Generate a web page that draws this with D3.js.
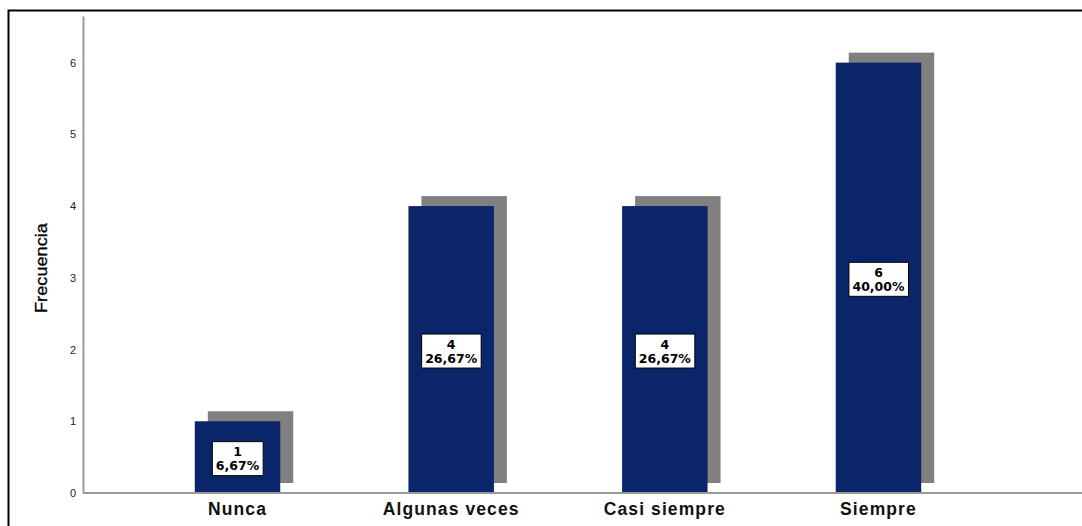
<!DOCTYPE html>
<html>
<head>
<meta charset="utf-8">
<script src="https://cdn.jsdelivr.net/npm/d3@7/dist/d3.min.js"></script>
<style>
  html, body { margin: 0; padding: 0; background: #fff; }
  svg { display: block; }
</style>
</head>
<body>
<script>
// Frequency table
const categories = ["Nunca", "Algunas veces", "Casi siempre", "Siempre"];
const frequencies = [1, 4, 4, 6];
const percentLabels = ["6,67%", "26,67%", "26,67%", "40,00%"];
const yTicks = [0, 1, 2, 3, 4, 5, 6];
const yTitle = "Frecuencia";

const W = 1082, H = 526;
const svg = d3.select("body").append("svg").attr("width", W).attr("height", H);

// outer chart frame (right and bottom edges run off the page)
svg.append("rect")
  .attr("x", 8.5).attr("y", 10.5)
  .attr("width", W + 20).attr("height", H + 20)
  .attr("fill", "none").attr("stroke", "#000").attr("stroke-width", 2);

const x = d3.scaleBand()
  .domain(categories)
  .range([130.7, 985.3])
  .paddingInner(0.6)
  .paddingOuter(0.3);

const y = d3.scaleLinear().domain([0, 6.65]).range([493, 16]);

const data = categories.map((c, i) => ({ cat: c, v: frequencies[i], pct: percentLabels[i] }));

// drop shadows behind the bars
const shadowDx = 13, shadowDy = -10;
svg.append("g").selectAll("rect").data(data).join("rect")
  .attr("x", d => x(d.cat) + shadowDx)
  .attr("y", d => y(d.v) + shadowDy)
  .attr("width", x.bandwidth())
  .attr("height", d => y(0) - y(d.v))
  .attr("fill", "#808080");

// bars
svg.append("g").selectAll("rect").data(data).join("rect")
  .attr("x", d => x(d.cat))
  .attr("y", d => y(d.v))
  .attr("width", x.bandwidth())
  .attr("height", d => y(0) - y(d.v))
  .attr("fill", "#0b256b");

// y axis
const yAxis = svg.append("g")
  .attr("transform", "translate(83,0)")
  .call(d3.axisLeft(y).tickValues(yTicks).tickFormat(d3.format("d")).tickSize(0).tickPadding(7));
yAxis.select(".domain").attr("stroke", "#9a9a9a").attr("stroke-width", 2);
yAxis.selectAll("text")
  .attr("font-family", "Liberation Sans, Arial, sans-serif")
  .attr("font-size", 11).attr("fill", "#222");

// x axis
const xAxis = svg.append("g")
  .attr("transform", "translate(0,493)")
  .call(d3.axisBottom(x).tickSize(0).tickPadding(10));
xAxis.select(".domain").remove();
xAxis.append("line")
  .attr("x1", 83).attr("x2", W).attr("y1", 0).attr("y2", 0)
  .attr("stroke", "#9a9a9a").attr("stroke-width", 2);
xAxis.selectAll("text")
  .attr("font-family", "Liberation Sans, Arial, sans-serif")
  .attr("font-size", 17.5).attr("font-weight", "bold").attr("fill", "#111")
  .attr("letter-spacing", 1.1);

// y title
svg.append("text")
  .attr("transform", "translate(47,268) rotate(-90)")
  .attr("text-anchor", "middle")
  .attr("font-family", "Liberation Sans, Arial, sans-serif")
  .attr("font-size", 17).attr("fill", "#000")
  .attr("stroke", "#000").attr("stroke-width", 0.3)
  .attr("textLength", 90).attr("lengthAdjust", "spacingAndGlyphs")
  .text(yTitle);

// value labels in boxes
const labels = svg.append("g").selectAll("g").data(data).join("g")
  .attr("transform", d => `translate(${x(d.cat) + x.bandwidth() / 2},${(y(d.v) + y(0)) / 2 + 2})`);
labels.each(function (d) {
  const g = d3.select(this);
  const t = g.append("text")
    .attr("text-anchor", "middle")
    .attr("font-family", "DejaVu Sans, sans-serif")
    .attr("font-size", 12.5).attr("font-weight", "bold").attr("fill", "#000");
  t.append("tspan").attr("x", 0).attr("y", -3).text(d.v);
  t.append("tspan").attr("x", 0).attr("y", 11).text(d.pct);
  const bb = t.node().getBBox();
  g.insert("rect", "text")
    .attr("x", bb.x - 3.5).attr("y", bb.y - 2.5)
    .attr("width", bb.width + 7).attr("height", bb.height + 5)
    .attr("fill", "#fff").attr("stroke", "#000").attr("stroke-width", 1);
});
</script>
</body>
</html>
